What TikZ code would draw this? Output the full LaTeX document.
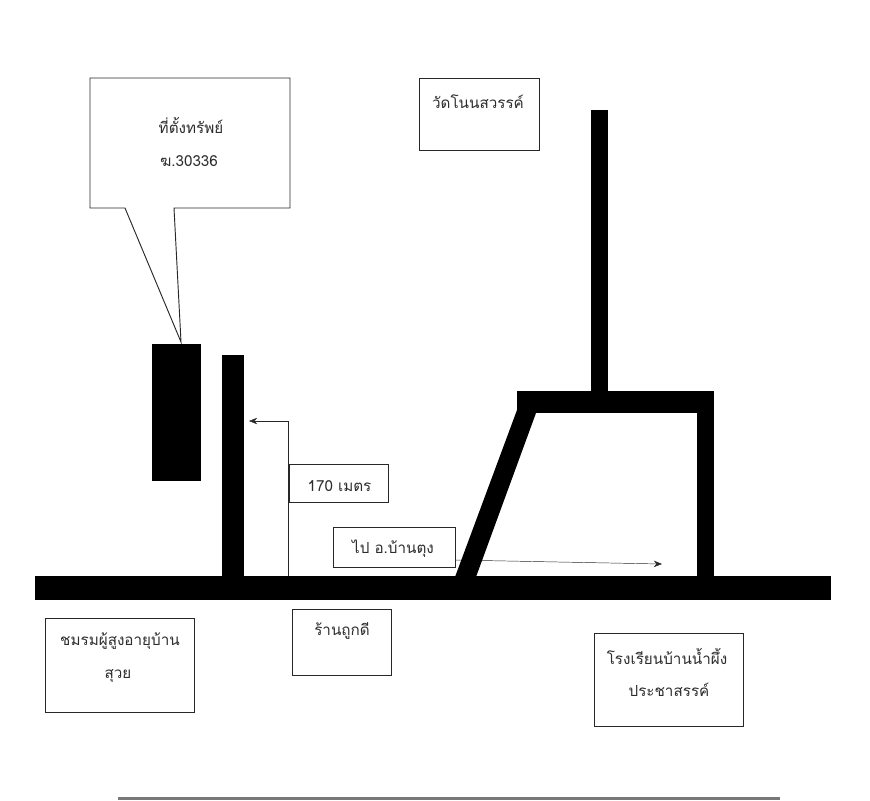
\documentclass[tikz,border=0pt]{standalone}
\usepackage{fontspec}
\newfontfamily\thaifont[Script=Thai]{Loma}
\usetikzlibrary{positioning, arrows.meta}
\definecolor{RoadColor}{RGB}{0,0,0}
\definecolor{BoxColor}{RGB}{40,40,40}
\definecolor{LabelColor}{RGB}{45,45,45}
\definecolor{RuleColor}{RGB}{120,120,120}
\tikzstyle{road} = [fill=RoadColor, draw=none]
\tikzstyle{placebox} = [draw=BoxColor, line width=0.8pt, fill=white, inner sep=0pt]
\tikzstyle{placetext} = [text=LabelColor, font=\thaifont\fontsize{13}{13}\selectfont, inner sep=0pt, align=center]
\tikzstyle{arrow} = [line width=0.4pt, BoxColor, -{Stealth[length=7pt,width=5.5pt]}]
\begin{document}
\begin{tikzpicture}[x=0.03cm, y=-0.03cm]
    \useasboundingbox (0,0) rectangle (870,800);

    % Boxes
    \node[placebox, minimum width=3.6cm, minimum height=2.16cm] (temple) at (479,114) {};
    \node[placetext] (templetext) at (478,102) {วัดโนนสวรรค์};

    \node[placebox, minimum width=2.97cm, minimum height=1.14cm] (dist) at (338.5,483) {};
    \node[placetext] (disttext) at (339.5,486) {170 เมตร};

    \node[placebox, minimum width=3.66cm, minimum height=1.2cm] (goto) at (394,547) {};
    \node[placetext] (gototext) at (393,549) {ไป อ.บ้านตุง};

    \node[placebox, minimum width=2.97cm, minimum height=1.98cm] (shop) at (341.5,642) {};
    \node[placetext] (shoptext) at (342,631) {ร้านถูกดี};

    \node[placebox, minimum width=4.47cm, minimum height=2.82cm] (club) at (119.5,665) {};
    \node[placetext] (clubtext) at (120,641) {ชมรมผู้สูงอายุบ้าน};
    \node[placetext] (clubtext2) at (118,676) {สุวย};

    \node[placebox, minimum width=4.47cm, minimum height=2.79cm] (school) at (668.5,679.5) {};
    \node[placetext] (schooltext) at (667,656) {โรงเรียนบ้านน้ำผึ้ง};
    \node[placetext] (schooltext2) at (669,690) {ประชาสรรค์};

    % Arrows
    \coordinate (start) at (288,576);
    \coordinate (bend) at (288,421);
    \coordinate (end) at (249,421);
    \coordinate (schoolend) at (662,564);
    \draw[arrow] (start) -- (bend) -- (end);
    \draw[arrow] (goto.east |- 0,560) -- (schoolend);

    % Roads
    \fill[road] (35,576) rectangle (831,600);
    \fill[road] (222,355) rectangle (244,577);
    \fill[road] (591,110) rectangle (608,392);
    \fill[road] (517,391) rectangle (714,413);
    \fill[road] (697,391) rectangle (714,577);
    \fill[road] (517,391) -- (517,410) -- (455,577) -- (476,577) -- (536,413) -- (536,391) -- cycle;

    % Plot
    \fill[road] (152,344) rectangle (201,481);

    % Callout
    \coordinate (tip) at (181,342);
    \draw[BoxColor, line width=0.8pt, fill=white] (90,78) -- (290,78) -- (290,208) -- (174,208) -- (tip) -- (125,208) -- (90,208) -- cycle;
    \node[placetext] (plotname) at (191,125) {ที่ตั้งทรัพย์};
    \node[placetext] (plotno) at (189,161) {ฆ.30336};

    % Bottom rule
    \fill[RuleColor] (118,797) rectangle (780,800);
\end{tikzpicture}
\end{document}
